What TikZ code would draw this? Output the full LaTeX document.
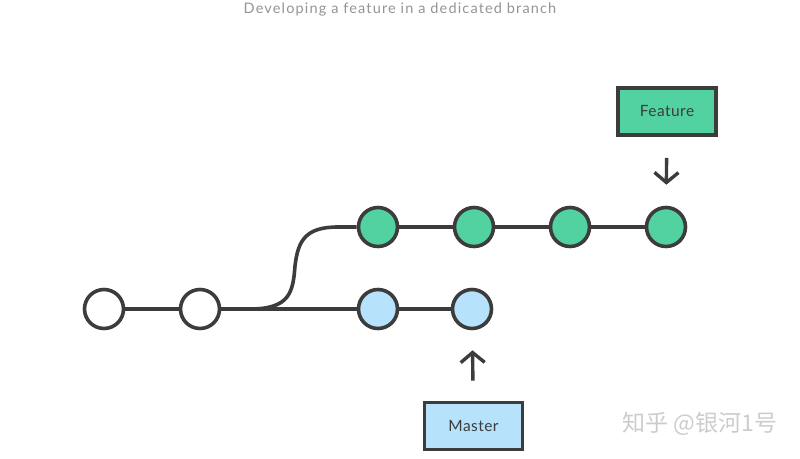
\documentclass[tikz,border=0pt]{standalone}
\usepackage{fontspec}
\setmainfont{Lato}
\newfontfamily\cjk{Noto Sans CJK SC}
\usetikzlibrary{arrows.meta}
\definecolor{ink}{RGB}{60,60,60}
\definecolor{featgreen}{RGB}{82,210,160}
\definecolor{mastblue}{RGB}{182,226,252}
\tikzset{
  commit/.style={circle, draw=ink, line width=3.6pt, minimum size=39pt, inner sep=0pt},
  tag/.style={draw=ink, line width=3.6pt, minimum width=98pt, minimum height=47pt,
    font=\fontsize{15.5}{18}\selectfont\addfontfeatures{LetterSpace=3}, text=ink},
  lnk/.style={draw=ink, line width=3.6pt},
  ptr/.style={draw=ink, line width=3.4pt, -{Straight Barb[length=10pt, width=24pt]}},
}
\def\yF{227}
\def\yM{309}

\begin{document}
\begin{tikzpicture}[x=1pt, y=-1pt]
\useasboundingbox (0,0) rectangle (800,458);

\node[font=\fontsize{14.5}{16}\selectfont, text=black!42] (title) at (400,9.5)
  {\addfontfeatures{LetterSpace=8}Developing a feature in a dedicated branch};

% shared history
\node[commit, fill=white] (w1) at (104,\yM) {};
\node[commit, fill=white] (w2) at (200,\yM) {};

% master
\node[commit, fill=mastblue] (m1) at (378,\yM) {};
\node[commit, fill=mastblue] (m2) at (472,\yM) {};

% feature
\node[commit, fill=featgreen] (f1) at (378,\yF) {};
\node[commit, fill=featgreen] (f2) at (474,\yF) {};
\node[commit, fill=featgreen] (f3) at (570,\yF) {};
\node[commit, fill=featgreen] (f4) at (666,\yF) {};

\draw[lnk] (w1) -- (w2);
\draw[lnk] (w2) -- (m1);
\draw[lnk] (m1) -- (m2);
\draw[lnk] (f1) -- (f2);
\draw[lnk] (f2) -- (f3);
\draw[lnk] (f3) -- (f4);
\coordinate (fork) at (250,\yM);
\coordinate (bend) at (295,266);
\coordinate (join) at (338,\yF);
\draw[lnk] (fork) .. controls (290,\yM) and (293,292) .. (bend)
  .. controls (298,240) and (306,\yF) .. (join) -- (f1);

% branch pointers
\node[tag, fill=featgreen] (feat) at (667,111.5) {Feature};
\node[tag, fill=mastblue] (mast) at (473.5,426) {Master};
\draw[ptr, shorten <=21pt, shorten >=21pt] (feat) -- (f4);
\draw[ptr, shorten <=20pt, shorten >=20pt] (mast) -- (m2);

\node[font=\cjk\fontsize{23}{25}\selectfont, text=black!20] (mark) at (700,424) {知乎 @银河1号};

\end{tikzpicture}
\end{document}
